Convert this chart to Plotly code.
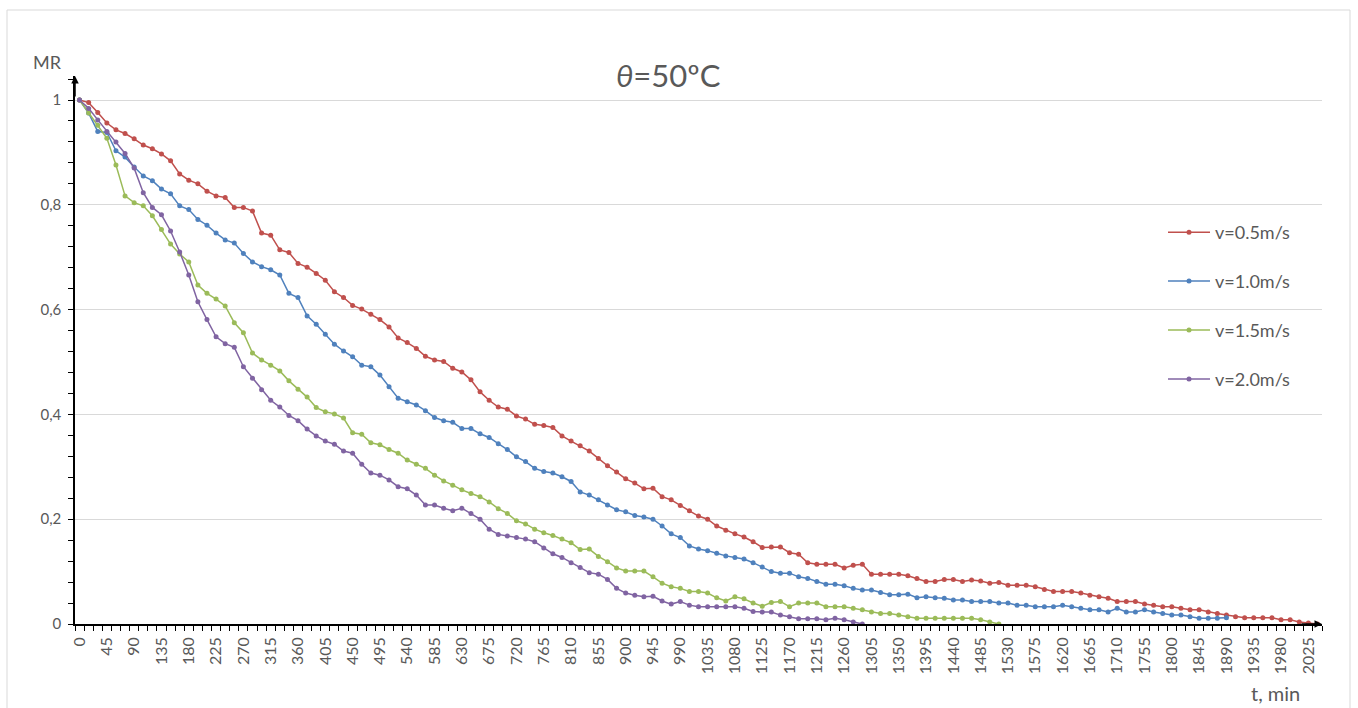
import plotly.graph_objects as go

# ---------------- data ----------------
time_min = list(range(0, 2041, 15))  # 15-min sampling, categories 0..2040

mr_v05 = [1.0, 0.995, 0.976, 0.956, 0.943, 0.936, 0.926, 0.914, 0.907, 0.897,
          0.884, 0.859, 0.847, 0.840, 0.826, 0.817, 0.814, 0.795, 0.795, 0.788,
          0.746, 0.742, 0.714, 0.709, 0.688, 0.681, 0.669, 0.656, 0.634, 0.623,
          0.608, 0.601, 0.591, 0.581, 0.567, 0.546, 0.537, 0.526, 0.511, 0.504,
          0.501, 0.488, 0.481, 0.466, 0.443, 0.427, 0.414, 0.410, 0.397, 0.391,
          0.381, 0.379, 0.375, 0.359, 0.349, 0.340, 0.330, 0.316, 0.302, 0.290,
          0.277, 0.269, 0.258, 0.259, 0.243, 0.237, 0.226, 0.216, 0.206, 0.200,
          0.187, 0.179, 0.172, 0.166, 0.157, 0.146, 0.147, 0.147, 0.136, 0.133,
          0.117, 0.114, 0.114, 0.114, 0.107, 0.112, 0.114, 0.095, 0.095, 0.095,
          0.095, 0.092, 0.087, 0.081, 0.081, 0.085, 0.085, 0.081, 0.084, 0.082,
          0.078, 0.079, 0.074, 0.074, 0.074, 0.071, 0.066, 0.062, 0.062, 0.062,
          0.059, 0.055, 0.052, 0.049, 0.043, 0.043, 0.043, 0.038, 0.036, 0.033,
          0.033, 0.030, 0.027, 0.027, 0.023, 0.020, 0.017, 0.014, 0.012, 0.012,
          0.012, 0.012, 0.008, 0.008, 0.004, 0.002, 0.0]

mr_v10 = [1.0, 0.975, 0.940, 0.938, 0.903, 0.891, 0.872, 0.855, 0.846, 0.830,
          0.821, 0.798, 0.791, 0.772, 0.761, 0.746, 0.733, 0.727, 0.707, 0.691,
          0.682, 0.676, 0.666, 0.631, 0.623, 0.588, 0.572, 0.553, 0.534, 0.521,
          0.510, 0.494, 0.491, 0.475, 0.453, 0.431, 0.424, 0.418, 0.407, 0.394,
          0.388, 0.385, 0.373, 0.373, 0.363, 0.356, 0.344, 0.333, 0.319, 0.310,
          0.297, 0.291, 0.288, 0.281, 0.272, 0.252, 0.246, 0.237, 0.227, 0.218,
          0.214, 0.207, 0.204, 0.200, 0.187, 0.172, 0.165, 0.149, 0.143, 0.140,
          0.135, 0.130, 0.127, 0.124, 0.117, 0.109, 0.100, 0.097, 0.097, 0.090,
          0.087, 0.081, 0.076, 0.076, 0.073, 0.068, 0.065, 0.065, 0.060, 0.056,
          0.056, 0.057, 0.050, 0.052, 0.050, 0.049, 0.046, 0.046, 0.043, 0.043,
          0.043, 0.040, 0.040, 0.036, 0.036, 0.033, 0.033, 0.033, 0.036, 0.033,
          0.030, 0.027, 0.027, 0.023, 0.030, 0.023, 0.023, 0.027, 0.023, 0.020,
          0.017, 0.017, 0.014, 0.011, 0.011, 0.011, 0.012]

mr_v15 = [1.0, 0.975, 0.952, 0.927, 0.876, 0.817, 0.804, 0.798, 0.779, 0.753,
          0.725, 0.706, 0.691, 0.647, 0.631, 0.620, 0.607, 0.575, 0.556, 0.517,
          0.504, 0.494, 0.483, 0.464, 0.448, 0.433, 0.413, 0.405, 0.401, 0.393,
          0.365, 0.362, 0.346, 0.342, 0.333, 0.326, 0.313, 0.305, 0.297, 0.284,
          0.273, 0.265, 0.256, 0.249, 0.243, 0.233, 0.220, 0.211, 0.197, 0.191,
          0.181, 0.174, 0.169, 0.162, 0.155, 0.142, 0.143, 0.129, 0.119, 0.107,
          0.101, 0.101, 0.101, 0.090, 0.078, 0.071, 0.068, 0.062, 0.062, 0.059,
          0.050, 0.044, 0.052, 0.048, 0.040, 0.034, 0.041, 0.043, 0.033, 0.040,
          0.040, 0.040, 0.033, 0.033, 0.033, 0.030, 0.027, 0.023, 0.020, 0.020,
          0.017, 0.014, 0.011, 0.011, 0.011, 0.011, 0.011, 0.011, 0.011, 0.008,
          0.004, 0.0]

mr_v20 = [1.0, 0.984, 0.962, 0.940, 0.920, 0.898, 0.870, 0.823, 0.795, 0.781,
          0.750, 0.710, 0.666, 0.615, 0.581, 0.548, 0.535, 0.528, 0.491, 0.469,
          0.447, 0.427, 0.414, 0.398, 0.388, 0.372, 0.359, 0.349, 0.343, 0.330,
          0.326, 0.305, 0.288, 0.284, 0.275, 0.262, 0.258, 0.246, 0.227, 0.227,
          0.221, 0.216, 0.221, 0.211, 0.200, 0.181, 0.171, 0.168, 0.165, 0.162,
          0.157, 0.145, 0.134, 0.127, 0.117, 0.108, 0.098, 0.095, 0.085, 0.068,
          0.059, 0.055, 0.052, 0.053, 0.044, 0.038, 0.043, 0.036, 0.033, 0.033,
          0.033, 0.033, 0.033, 0.030, 0.024, 0.023, 0.023, 0.017, 0.014, 0.010,
          0.010, 0.010, 0.008, 0.011, 0.008, 0.004, 0.0]

series_names = ["v=0.5m/s", "v=1.0m/s", "v=1.5m/s", "v=2.0m/s"]
series_colors = ["#C0504D", "#4F81BD", "#9BBB59", "#8064A2"]

x_tick_vals = list(range(0, 2026, 45))
x_tick_text = [str(v) for v in x_tick_vals]
y_tick_vals = [0, 0.2, 0.4, 0.6, 0.8, 1.0]
y_tick_text = ["0", "0,2", "0,4", "0,6", "0,8", "1"]

# ---------------- layout geometry ----------------
W, H = 1358, 708
ML, MRG, MT, MB = 75, 36, 76, 84
PW, PH = W - ML - MRG, H - MT - MB


def px(xp):
    return (xp - ML) / PW


def py(yp):
    return (H - MB - yp) / PH


FONT = "Lato, 'Open Sans', sans-serif"
TXT = "#595959"

fig = go.Figure()
for name, color, vals in zip(series_names, series_colors,
                             [mr_v05, mr_v10, mr_v15, mr_v20]):
    fig.add_trace(go.Scatter(
        x=time_min[:len(vals)], y=vals, name=name, legendgroup=name,
        mode="lines+markers",
        line=dict(color=color, width=1.5),
        marker=dict(color=color, size=5),
    ))

fig.update_layout(
    width=W, height=H,
    margin=dict(l=ML, r=MRG, t=MT, b=MB, autoexpand=False),
    paper_bgcolor="white", plot_bgcolor="white",
    separators=", ",
    font=dict(family=FONT, color=TXT, size=13),
    showlegend=True,
    legend=dict(
        x=px(1163), y=py(214), xanchor="left", yanchor="top",
        bgcolor="rgba(0,0,0,0)", tracegroupgap=22.5, itemwidth=42,
        font=dict(family=FONT, size=18, color=TXT),
    ),
)

fig.update_xaxes(
    range=[-7.5, 2047.5],
    tickmode="array", tickvals=x_tick_vals, ticktext=x_tick_text,
    tickangle=-90, tickfont=dict(size=16, color=TXT, family=FONT),
    ticks="outside", ticklen=5, tickcolor="rgba(0,0,0,0)",
    minor=dict(tickmode="linear", tick0=-7.5, dtick=15, ticks="outside",
               ticklen=5, tickcolor="black", tickwidth=1, showgrid=False),
    showgrid=False, zeroline=False,
    showline=True, linecolor="black", linewidth=1.5,
)
fig.update_yaxes(
    range=[0, 548 / 524],
    tickmode="array", tickvals=y_tick_vals, ticktext=y_tick_text,
    tickfont=dict(size=15, color=TXT, family=FONT),
    ticks="outside", ticklen=5, tickcolor="black", ticklabelstandoff=4,
    minor=dict(tickmode="linear", tick0=0, dtick=0.04, ticks="outside",
               ticklen=5, tickcolor="black", showgrid=False),
    showgrid=True, gridcolor="#D9D9D9", gridwidth=1,
    zeroline=False,
    showline=True, linecolor="black", linewidth=1.5,
)

# chart frame
fig.add_shape(type="rect", xref="paper", yref="paper",
              x0=px(7), x1=px(1350), y0=py(715), y1=py(10),
              line=dict(color="#D9D9D9", width=1), layer="below")

# axis arrows
fig.add_annotation(xref="paper", yref="paper", x=0, y=1, ax=0, ay=22,
                   text="", showarrow=True, arrowhead=2, arrowsize=1,
                   arrowwidth=1.5, arrowcolor="black")
fig.add_annotation(xref="paper", yref="paper", x=1, y=0, ax=-22, ay=0,
                   text="", showarrow=True, arrowhead=2, arrowsize=1,
                   arrowwidth=1.5, arrowcolor="black")

# title and axis names
fig.add_annotation(xref="paper", yref="paper", x=px(668), y=py(75),
                   text="<i>θ</i>=50ºC", showarrow=False,
                   font=dict(size=31, color=TXT, family=FONT),
                   xanchor="center", yanchor="middle")
fig.add_annotation(xref="paper", yref="paper", x=px(47), y=py(62),
                   text="MR", showarrow=False,
                   font=dict(size=18, color=TXT, family=FONT),
                   xanchor="center", yanchor="middle")
fig.add_annotation(xref="paper", yref="paper", x=px(1275), y=py(693),
                   text="t, min", showarrow=False,
                   font=dict(size=20, color=TXT, family=FONT),
                   xanchor="center", yanchor="middle")

fig.write_html("out.html")
